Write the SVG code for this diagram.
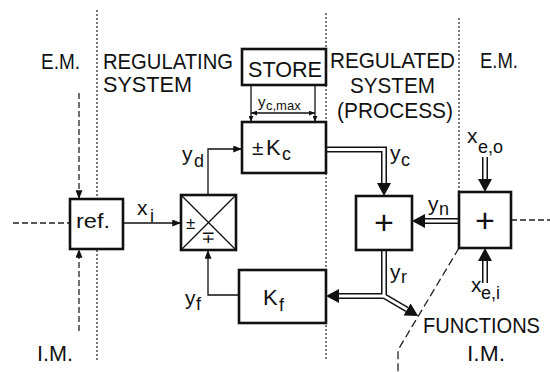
<svg xmlns="http://www.w3.org/2000/svg" width="550" height="372" viewBox="0 0 550 372">
<defs>
<style>
.bg{fill:#fff}
.box{fill:#fff;stroke:#111;stroke-width:2.6}
.thin{fill:none;stroke:#111;stroke-width:1.3}
.dbl-o{fill:none;stroke:#111;stroke-width:6}
.dbl-i{fill:none;stroke:#fff;stroke-width:3}
.dot{fill:none;stroke:#222;stroke-width:1.2;stroke-dasharray:2 2}
.dash{fill:none;stroke:#222;stroke-width:1.3;stroke-dasharray:6 3}
.ldash{fill:none;stroke:#222;stroke-width:1.3;stroke-dasharray:8 4}
.t{font-family:"Liberation Sans","DejaVu Sans",sans-serif;fill:#111}
.big{font-size:22px}
.lab{font-size:21px}
.sub{font-size:18px}
.small{font-size:13px}
.plus{font-family:"Liberation Sans",sans-serif;font-size:34px;fill:#111}
</style>
<marker id="a" viewBox="0 0 10 8" refX="10" refY="4" markerWidth="9" markerHeight="7" markerUnits="userSpaceOnUse" orient="auto"><path d="M0,0 L10,4 L0,8 z" fill="#111"/></marker>
<marker id="s" viewBox="0 0 10 8" refX="10" refY="4" markerWidth="6" markerHeight="5" markerUnits="userSpaceOnUse" orient="auto-start-reverse"><path d="M0,0 L10,4 L0,8 z" fill="#111"/></marker>
<marker id="b" viewBox="0 0 13 14" refX="0" refY="7" markerWidth="13" markerHeight="14" markerUnits="userSpaceOnUse" orient="auto"><path d="M0,0 L13,7 L0,14 z" fill="#111"/></marker>
</defs>
<rect class="bg" x="0" y="0" width="550" height="372"/>

<g id="boundaries">
<path class="dot" d="M97,10 V360"/>
<path class="dot" d="M326,13 V360"/>
<path class="dot" d="M459,18 V192"/>
<path class="dash" d="M13,223 H70"/>
<path class="dash" d="M511,220 H550"/>
<path class="ldash" d="M459,248 L398,350 V372"/>
</g>

<g id="connectors">
<path class="dash" d="M79,93 V199" marker-end="url(#a)"/>
<path class="dash" d="M79,331 V249" marker-end="url(#a)"/>
<path class="thin" d="M123,223 H181" marker-end="url(#a)"/>
<path class="thin" d="M208,195 V149 H242" marker-end="url(#a)"/>
<path class="thin" d="M239,295 H208 V250" marker-end="url(#a)"/>
<path class="thin" d="M251,85 V122" marker-end="url(#s)"/>
<path class="thin" d="M315,85 V122" marker-end="url(#s)"/>
<path class="thin" d="M251,113 H315" marker-start="url(#s)" marker-end="url(#s)"/>
<path class="dbl-o" d="M326,149.5 H384 V183" marker-end="url(#b)"/>
<path class="dbl-o" d="M459,221 H425" marker-end="url(#b)"/>
<path class="dbl-o" d="M485,157 V179" marker-end="url(#b)"/>
<path class="dbl-o" d="M485,283 V261" marker-end="url(#b)"/>
<path class="dbl-o" d="M384,250 V296 H339" marker-end="url(#b)"/>
<path class="dbl-o" d="M384,296 L407,309.5" marker-end="url(#b)"/>
<path class="dbl-i" d="M326,149.5 H384 V183"/>
<path class="dbl-i" d="M459,221 H425"/>
<path class="dbl-i" d="M485,157 V179"/>
<path class="dbl-i" d="M485,283 V261"/>
<path class="dbl-i" d="M384,250 V296 H339"/>
<path class="dbl-i" d="M384,296 L407,309.5"/>
</g>

<g id="ref">
<rect class="box" x="70" y="199" width="53" height="50"/>
<text class="t lab" x="76" y="228" textLength="34" lengthAdjust="spacingAndGlyphs">ref.</text>
</g>

<g id="comparator">
<rect class="box" x="181" y="195" width="55" height="55"/>
<path class="thin" d="M181,195 L236,250 M236,195 L181,250" stroke-width="1"/>
<text class="t" style="font-size:17px" x="186" y="229">±</text>
<text class="t" style="font-size:17px" x="201" y="243">∓</text>
</g>

<g id="store">
<rect class="box" x="242" y="49" width="84" height="36"/>
<text class="t big" x="248" y="77" textLength="74" lengthAdjust="spacingAndGlyphs">STORE</text>
</g>

<g id="kc">
<rect class="box" x="242" y="122" width="84" height="51"/>
<text class="t lab" y="155"><tspan x="252">±</tspan><tspan x="266" style="font-size:22px">K</tspan><tspan class="sub" x="282" y="160">c</tspan></text>
</g>

<g id="kf">
<rect class="box" x="239" y="270" width="87" height="53"/>
<text class="t lab" y="305"><tspan x="263" style="font-size:22px">K</tspan><tspan class="sub" x="279" y="311">f</tspan></text>
</g>

<g id="sum1">
<rect class="box" x="356" y="196" width="56" height="54"/>
<text class="plus" x="384" y="234" text-anchor="middle">+</text>
</g>

<g id="sum2">
<rect class="box" x="459" y="192" width="52" height="56"/>
<text class="plus" x="485" y="231.5" text-anchor="middle">+</text>
</g>

<g id="labels">
<text class="t big" x="41" y="69" textLength="39" lengthAdjust="spacingAndGlyphs">E.M.</text>
<text class="t big" x="103" y="69" textLength="130" lengthAdjust="spacingAndGlyphs">REGULATING</text>
<text class="t big" x="103" y="92" textLength="89" lengthAdjust="spacingAndGlyphs">SYSTEM</text>
<text class="t big" x="330" y="68" textLength="125" lengthAdjust="spacingAndGlyphs">REGULATED</text>
<text class="t big" x="350" y="93" textLength="85" lengthAdjust="spacingAndGlyphs">SYSTEM</text>
<text class="t big" x="337" y="118" textLength="116" lengthAdjust="spacingAndGlyphs">(PROCESS)</text>
<text class="t big" x="480" y="68" textLength="38" lengthAdjust="spacingAndGlyphs">E.M.</text>
<text class="t big" x="423" y="333" textLength="117" lengthAdjust="spacingAndGlyphs">FUNCTIONS</text>
<text class="t big" x="467" y="361" textLength="38" lengthAdjust="spacingAndGlyphs">I.M.</text>
<text class="t big" x="37" y="361" textLength="36" lengthAdjust="spacingAndGlyphs">I.M.</text>
<text class="t lab" y="215"><tspan x="137">x</tspan><tspan class="sub" x="150" y="222">i</tspan></text>
<text class="t lab" y="161"><tspan x="182">y</tspan><tspan class="sub" x="194" y="167">d</tspan></text>
<text class="t lab" y="305"><tspan x="185">y</tspan><tspan class="sub" x="196" y="310">f</tspan></text>
<text class="t lab" y="160"><tspan x="390">y</tspan><tspan class="sub" x="401" y="166">c</tspan></text>
<text class="t lab" y="211"><tspan x="428">y</tspan><tspan class="sub" x="439" y="215">n</tspan></text>
<text class="t lab" y="279"><tspan x="390">y</tspan><tspan class="sub" x="401" y="283">r</tspan></text>
<text class="t lab" y="143"><tspan x="467">x</tspan><tspan class="sub" x="478" y="153">e,o</tspan></text>
<text class="t lab" y="292"><tspan x="471">x</tspan><tspan class="sub" x="481" y="299">e,i</tspan></text>
<text class="t" style="font-size:15px" y="107"><tspan x="258">y</tspan><tspan class="small" x="266" y="110">c,max</tspan></text>
</g>
</svg>
